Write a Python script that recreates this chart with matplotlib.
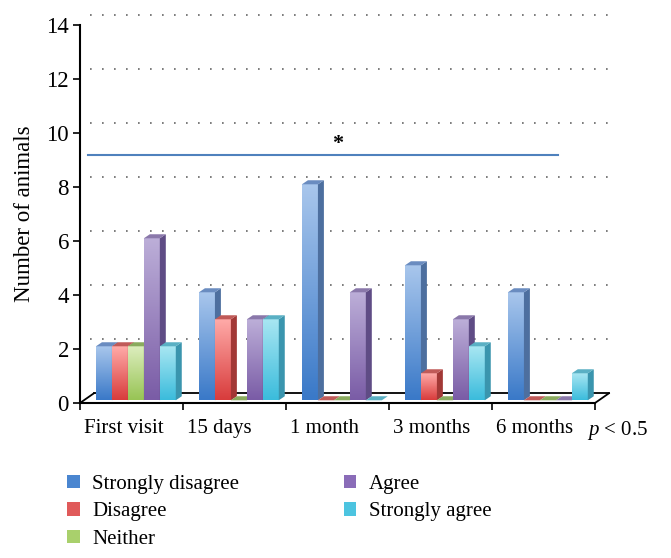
import numpy as np
import matplotlib.pyplot as plt
from matplotlib.patches import Rectangle, Polygon, Patch
from matplotlib.colors import LinearSegmentedColormap

plt.rcParams['font.family'] = ['Liberation Serif', 'DejaVu Serif']
plt.rcParams['mathtext.fontset'] = 'custom'
plt.rcParams['mathtext.it'] = 'Liberation Serif:italic'
plt.rcParams['mathtext.rm'] = 'Liberation Serif'

categories = ['First visit', '15 days', '1 month', '3 months', '6 months']
series_names = ['Strongly disagree', 'Disagree', 'Neither', 'Agree', 'Strongly agree']
strongly_disagree = [2, 4, 8, 5, 4]
disagree = [2, 3, 0, 1, 0]
neither = [2, 0, 0, 0, 0]
agree = [6, 3, 4, 3, 0]
strongly_agree = [2, 3, 0, 2, 1]
sig_level = 9.2
yticks = [0, 2, 4, 6, 8, 10, 12, 14]

series = [strongly_disagree, disagree, neither, agree, strongly_agree]
# (top of front, bottom of front, side, top face, legend)
colors = [
    ('#a8c6ec', '#3a79c8', '#4d6f9f', '#6a8cc0', '#4a86d0'),
    ('#ffaaa8', '#d83c3c', '#a23836', '#c05a58', '#e05a5a'),
    ('#dcedbd', '#98c455', '#78994a', '#8aab5e', '#a9d06c'),
    ('#bcaed8', '#7a5ca6', '#5f4c85', '#8a78aa', '#8a6cb8'),
    ('#a8e6f2', '#3bbcdc', '#3a95ae', '#5ab0c4', '#4cc4e0'),
]

fig = plt.figure(figsize=(6.71, 5.58), dpi=100)
ax = fig.add_axes([80 / 671, 155 / 558, 515 / 671, 378 / 558])

# depth offsets (data units): floor / bars
fdx, fdy = 0.135, 0.36
bdx, bdy = 0.058, 0.15
bx0, by0 = 0.03, 0.1
gx0, bw = 0.125, 0.155
ncat = len(categories)

# floor
ax.add_patch(Polygon([(0, 0), (ncat, 0), (ncat + fdx, fdy), (fdx, fdy)],
                     closed=True, fc='white', ec='none', zorder=1))
ax.plot([fdx, ncat + fdx], [fdy, fdy], color='black', lw=1.3, zorder=2, clip_on=False)
ax.plot([0, fdx], [0, fdy], color='black', lw=1.3, zorder=2, clip_on=False)
ax.plot([ncat, ncat + fdx], [0, fdy], color='black', lw=1.3, zorder=2, clip_on=False)

# dotted back-wall gridlines
for t in yticks[1:]:
    ax.plot([fdx - 0.04, ncat + fdx], [t + fdy, t + fdy], color='#666666', lw=1.2,
            linestyle=(0, (1, 6.2)), zorder=0.5, clip_on=False)

grad = np.linspace(1, 0, 64).reshape(-1, 1)
z = 3
for i in range(ncat):
    for j, vals in enumerate(series):
        v = vals[i]
        c_top, c_bot, c_side, c_cap, _ = colors[j]
        x = i + gx0 + j * bw + bx0
        y0 = by0
        y1 = by0 + v
        if v > 0:
            cmap = LinearSegmentedColormap.from_list('g', [c_bot, c_top])
            rect = Rectangle((x, y0), bw, v, fc='none', ec='none', zorder=z)
            ax.add_patch(rect)
            im = ax.imshow(grad, extent=(x, x + bw, y0, y1), aspect='auto',
                           cmap=cmap, vmin=0, vmax=1, zorder=z, interpolation='bilinear')
            im.set_clip_path(rect)
            ax.add_patch(Polygon([(x + bw, y0), (x + bw + bdx, y0 + bdy),
                                  (x + bw + bdx, y1 + bdy), (x + bw, y1)],
                                 closed=True, fc=c_side, ec='none', zorder=z))
        ax.add_patch(Polygon([(x, y1), (x + bdx, y1 + bdy), (x + bw + bdx, y1 + bdy),
                              (x + bw, y1)], closed=True, fc=c_cap, ec='none', zorder=z + 0.01))
        z += 0.05

# front axis line
ax.plot([0, ncat], [0, 0], color='black', lw=1.5, zorder=20, clip_on=False)

# significance line
ax.plot([0.08, 4.64], [sig_level, sig_level], color='#4f81bd', lw=1.5, zorder=20)
ax.text(2.5, sig_level + 0.38, '*', ha='center', va='center', fontsize=16,
        fontweight='bold', zorder=20)

ax.set_xlim(0, ncat)
ax.set_ylim(0, 14)
for s in ['top', 'right', 'bottom']:
    ax.spines[s].set_visible(False)
ax.spines['left'].set_linewidth(1.5)
ax.set_yticks(yticks)
ax.tick_params(axis='y', direction='out', length=5, width=1.2, labelsize=16.5, pad=3)
ax.set_xticks(range(ncat + 1))
ax.set_xticklabels([])
ax.tick_params(axis='x', direction='out', length=5, width=1.2)
ax.set_ylabel('Number of animals', fontsize=16.5, labelpad=8)

for i, c in enumerate(categories):
    ax.text(i + 0.04, -0.6, c, ha='left', va='top', fontsize=15, clip_on=False)
ax.text(ncat - 0.08, -0.6, r'$p$ < 0.5', ha='left', va='top', fontsize=15, clip_on=False)

handles = [Patch(fc=c[4], ec='none') for c in colors]
fig.legend(handles, series_names, loc='upper left', bbox_to_anchor=(0.085, 0.168),
           ncol=2, frameon=False, fontsize=15, handlelength=0.6, handleheight=0.6,
           handletextpad=0.6, labelspacing=0.42, columnspacing=5.0, borderpad=0)

fig.savefig('out.png', dpi=100)
